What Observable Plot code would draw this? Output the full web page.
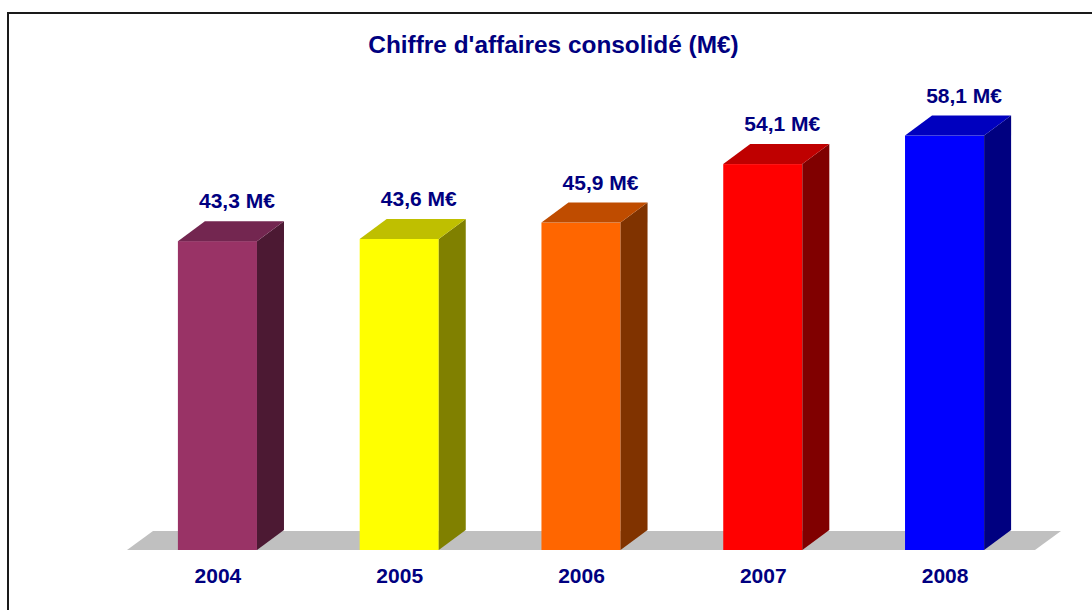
<!DOCTYPE html>
<html><head><meta charset="utf-8">
<script src="https://cdn.jsdelivr.net/npm/d3@7"></script>
<script src="https://cdn.jsdelivr.net/npm/@observablehq/plot@0.6"></script>
<style>
html,body{margin:0;padding:0;background:#fff;}
#wrap{position:relative;width:1092px;height:610px;overflow:hidden;font-family:"Liberation Sans",Arial,sans-serif;}
#frame{position:absolute;left:7px;top:12px;width:2000px;height:2000px;border-left:2px solid #1a1a1a;border-top:2px solid #1a1a1a;}
#title{position:relative;height:70px;box-sizing:border-box;padding-top:33px;padding-left:15px;text-align:center;font-size:24.4px;line-height:24px;font-weight:bold;color:#000080;white-space:nowrap;}
#chart{position:relative;}
#chart svg{display:block;}
</style></head>
<body><div id="wrap"><div id="frame"></div><div id="title">Chiffre d'affaires consolidé (M€)</div><div id="chart"></div></div>
<script>
// Data
const years = ["2004", "2005", "2006", "2007", "2008"];
const values = [43.3, 43.6, 45.9, 54.1, 58.1];
const labels = ["43,3 M€", "43,6 M€", "45,9 M€", "54,1 M€", "58,1 M€"];

// Palette (styles kept apart from data)
const frontColors = ["#993366", "#FFFF00", "#FF6600", "#FF0000", "#0000FF"];
const sideColors  = ["#4C1933", "#808000", "#803300", "#800000", "#000080"];
const topColors   = ["#732650", "#BFBF00", "#BF4C00", "#BF0000", "#0000BF"];

const data = years.map((year, i) => ({
  year, value: values[i], label: labels[i],
  front: frontColors[i], side: sideColors[i], top: topColors[i]
}));

const DX = 27, DY = 20;

function floorMark(index, scales) {
  const x = scales.x, y = scales.y;
  const [r0, r1] = x.range();
  const y0 = y(0);
  const g = d3.create("svg:g");
  g.append("polygon")
    .attr("points", [[r0, y0], [r1, y0], [r1 + 26, y0 - 19], [r0 + 26, y0 - 19]].map(p => p.join(",")).join(" "))
    .attr("fill", "#C0C0C0");
  return g.node();
}

function facesMark(index, scales) {
  const x = scales.x, y = scales.y, bw = x.bandwidth();
  const g = d3.create("svg:g");
  for (const d of data) {
    const xl = x(d.year), xr = xl + bw, yt = y(d.value), yb = y(0);
    g.append("polygon")
      .attr("points", [[xr, yb], [xr, yt], [xr + DX, yt - DY], [xr + DX, yb - DY]].map(p => p.join(",")).join(" "))
      .attr("fill", d.side);
    g.append("polygon")
      .attr("points", [[xl, yt], [xr, yt], [xr + DX, yt - DY], [xl + DX, yt - DY]].map(p => p.join(",")).join(" "))
      .attr("fill", d.top);
  }
  return g.node();
}

const chart = Plot.plot({
  width: 1092,
  height: 540,
  marginLeft: 127,
  marginRight: 57,
  marginTop: 52,
  marginBottom: 60,
  style: {
    fontFamily: "'Liberation Sans', Arial, sans-serif",
    fontSize: "21px",
    fontWeight: "bold",
    color: "#000080",
    background: "transparent",
    overflow: "visible"
  },
  x: {type: "band", domain: years, paddingInner: 0.565, paddingOuter: 0.28, round: false, axis: null},
  y: {domain: [0, 60], axis: null},
  marks: [
    floorMark,
    Plot.barY(data, {x: "year", y: "value", fill: "front"}),
    facesMark,
    Plot.text(data, {x: "year", y: "value", text: "label", dx: 19, dy: -40, fill: "#000080"}),
    Plot.text(years, {x: d => d, y: () => 0, text: d => d, dy: 26, fill: "#000080"})
  ]
});
document.getElementById("chart").appendChild(chart);
</script>
</body></html>
